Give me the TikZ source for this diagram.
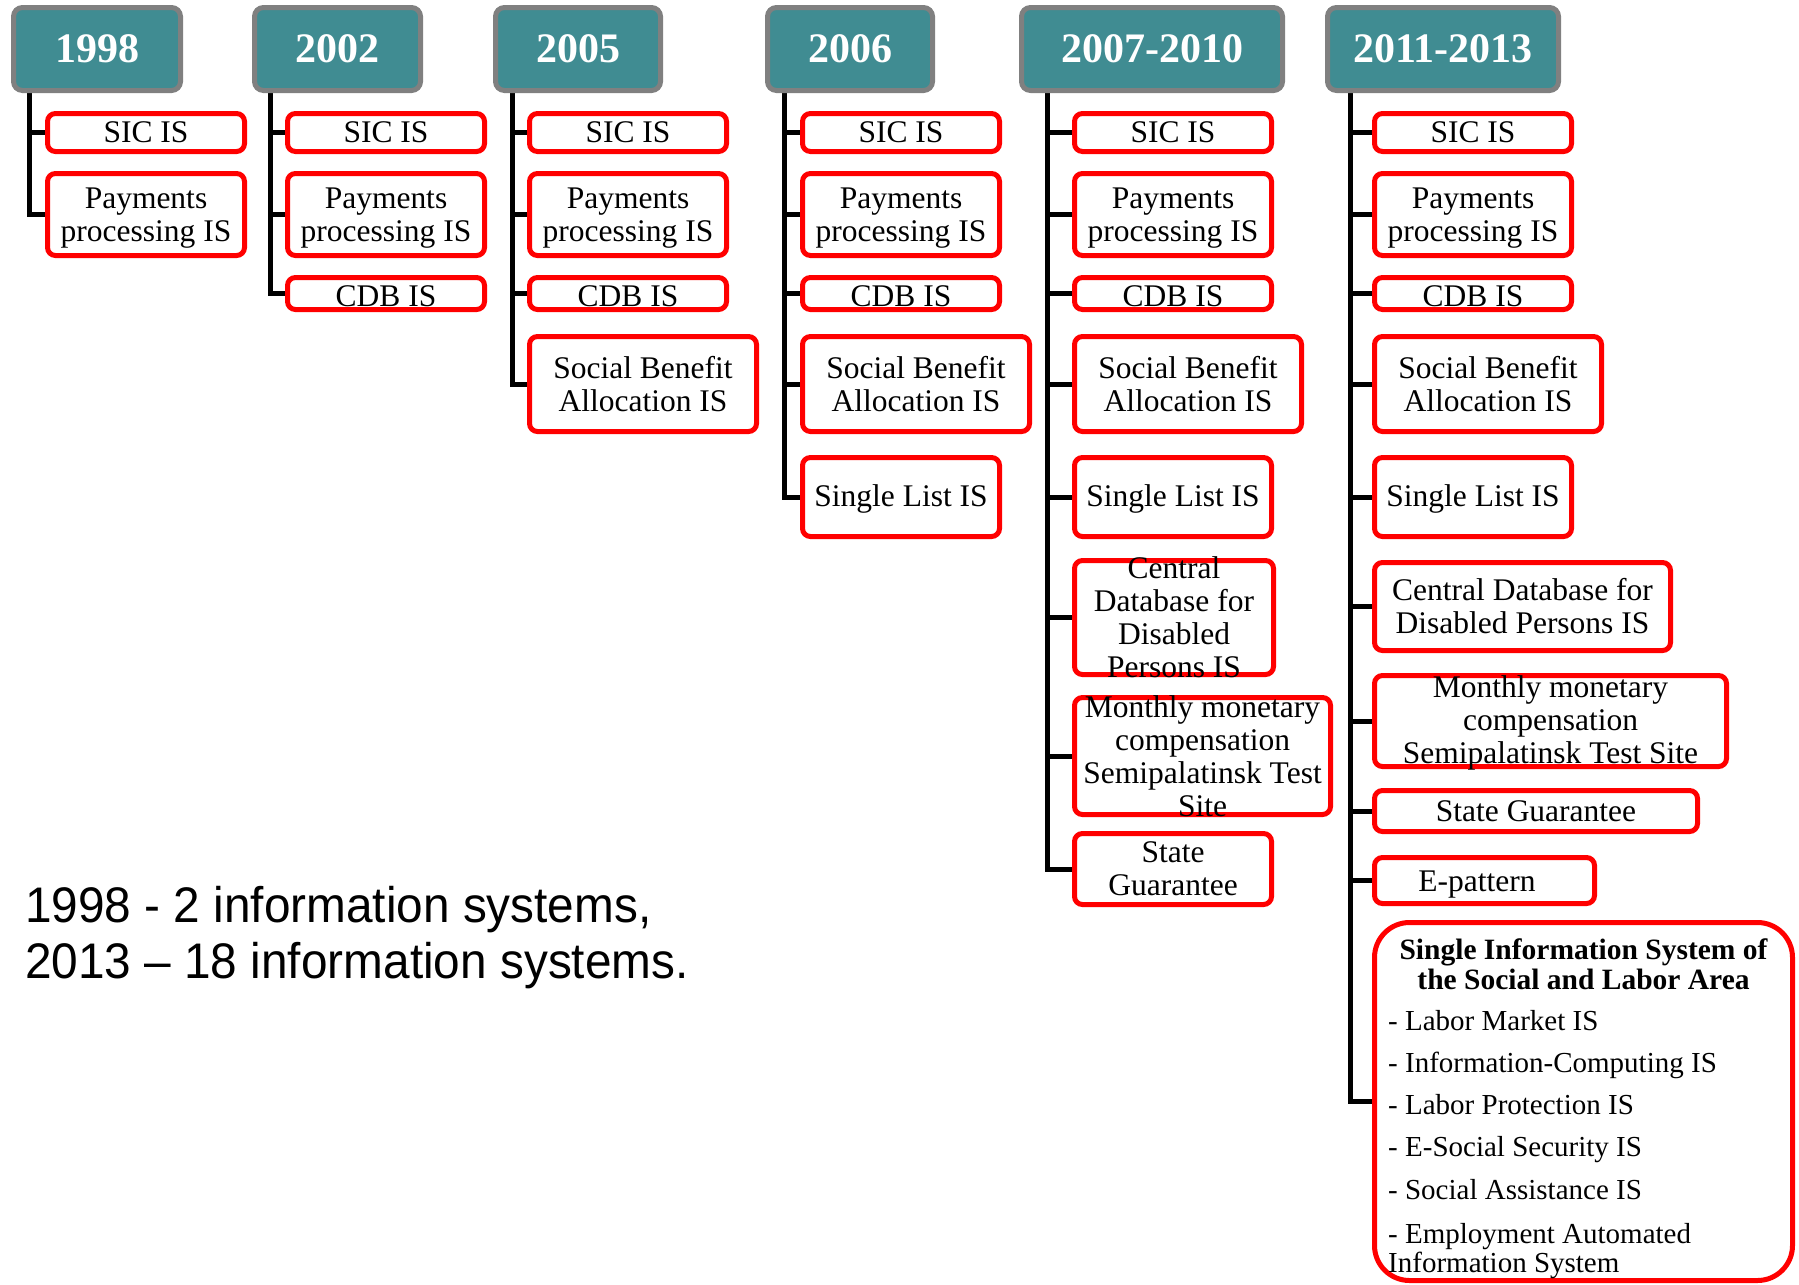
\documentclass[tikz,border=0pt]{standalone}
\usepackage{fontspec}
\setmainfont{Liberation Serif}
\newfontfamily\notesans{Liberation Sans}
\usetikzlibrary{backgrounds}

\definecolor{headteal}{RGB}{64,140,146}
\definecolor{headgray}{RGB}{128,128,128}
\definecolor{boxred}{RGB}{255,0,0}

% invisible strut that raises the top of a line (pushes the text down in its box)
\newcommand{\lift}[1]{\rule{0pt}{#1pt}}

\tikzset{
  yearbox/.style={draw=headgray, fill=headteal, line width=5pt, rounded corners=9pt,
    inner sep=0pt, outer sep=0pt, minimum height=83pt, text=white,
    font=\bfseries\fontsize{42}{44}\selectfont},
  isbox/.style={draw=boxred, fill=white, line width=5pt, rounded corners=8pt,
    inner sep=0pt, outer sep=0pt, align=center, font=\fontsize{31.5}{33}\selectfont},
  istext/.style={inner sep=0pt, align=center, font=\fontsize{31.5}{33}\selectfont},
  narrow/.style={minimum width=197pt},
  sbawide/.style={minimum width=227pt},
  rowsic/.style={minimum height=38pt},
  rowpay/.style={minimum height=82pt},
  rowcdb/.style={minimum height=32pt},
  rowsba/.style={minimum height=95pt},
  rowsl/.style={minimum height=79pt},
  branch/.style={draw=black, line width=5pt},
  itemtext/.style={anchor=base west, inner sep=0pt, font=\fontsize{29}{30}\selectfont},
  notetext/.style={anchor=base west, inner sep=0pt, xscale=0.955, transform shape,
    font=\notesans\fontsize{50}{56}\selectfont},
}

\begin{document}
\begin{tikzpicture}[x=1pt,y=-1pt]
\useasboundingbox (0,0) rectangle (1799,1285);

% year headers
\node[yearbox, minimum width=167pt] (y1) at (97,49) {1998};
\node[yearbox, minimum width=166pt] (y2) at (337.5,49) {2002};
\node[yearbox, minimum width=165pt] (y3) at (578,49) {2005};
\node[yearbox, minimum width=165pt] (y4) at (850,49) {2006};
\node[yearbox, minimum width=261pt] (y5) at (1152,49) {2007-2010};
\node[yearbox, minimum width=231pt] (y6) at (1443,49) {2011-2013};

% 1998
\node[isbox, narrow, rowsic] (a1) at (146,132.5) {SIC IS};
\node[isbox, narrow, rowpay] (a2) at (146,214.5) {\lift{28}Payments\\processing IS};

% 2002
\node[isbox, narrow, rowsic] (b1) at (386,132.5) {SIC IS};
\node[isbox, narrow, rowpay] (b2) at (386,214.5) {\lift{28}Payments\\processing IS};
\node[isbox, narrow, rowcdb] (b3) at (386,293.5) {\lift{25.5}CDB IS};

% 2005
\node[isbox, narrow, rowsic] (c1) at (628,132.5) {SIC IS};
\node[isbox, narrow, rowpay] (c2) at (628,214.5) {\lift{28}Payments\\processing IS};
\node[isbox, narrow, rowcdb] (c3) at (628,293.5) {\lift{25.5}CDB IS};
\node[isbox, sbawide, rowsba] (c4) at (643,384) {Social Benefit\\Allocation IS};

% 2006
\node[isbox, narrow, rowsic] (d1) at (901,132.5) {SIC IS};
\node[isbox, narrow, rowpay] (d2) at (901,214.5) {\lift{28}Payments\\processing IS};
\node[isbox, narrow, rowcdb] (d3) at (901,293.5) {\lift{25.5}CDB IS};
\node[isbox, sbawide, rowsba] (d4) at (916,384) {Social Benefit\\Allocation IS};
\node[isbox, narrow, rowsl] (d5) at (901,497) {\lift{26}Single List IS};

% 2007-2010
\node[isbox, narrow, rowsic] (e1) at (1173,132.5) {SIC IS};
\node[isbox, narrow, rowpay] (e2) at (1173,214.5) {\lift{28}Payments\\processing IS};
\node[isbox, narrow, rowcdb] (e3) at (1173,293.5) {\lift{25.5}CDB IS};
\node[isbox, sbawide, rowsba] (e4) at (1188,384) {Social Benefit\\Allocation IS};
\node[isbox, narrow, rowsl] (e5) at (1173,497) {\lift{26}Single List IS};
\node[isbox, minimum width=199pt, minimum height=114pt] (e6) at (1174,617.5) {};
\node[istext] (e6t) at (e6.center) {Central\\Database for\\Disabled\\Persons IS};
\node[isbox, minimum width=256pt, minimum height=117pt] (e7) at (1202.5,756) {};
\node[istext] (e7t) at (e7.center) {Monthly monetary\\compensation\\Semipalatinsk Test\\Site};
\node[isbox, narrow, minimum height=71pt] (e8) at (1173,869) {State\\Guarantee};

% 2011-2013
\node[isbox, narrow, rowsic] (f1) at (1473,132.5) {SIC IS};
\node[isbox, narrow, rowpay] (f2) at (1473,214.5) {\lift{28}Payments\\processing IS};
\node[isbox, narrow, rowcdb] (f3) at (1473,293.5) {\lift{25.5}CDB IS};
\node[isbox, sbawide, rowsba] (f4) at (1488,384) {Social Benefit\\Allocation IS};
\node[isbox, narrow, rowsl] (f5) at (1473,497) {\lift{26}Single List IS};
\node[isbox, minimum width=296pt, minimum height=88pt] (f6) at (1522.5,606.5) {Central Database for\\Disabled Persons IS};
\node[isbox, minimum width=352pt, minimum height=91pt] (f7) at (1550.5,721) {};
\node[istext] (f7t) at (f7.center) {\lift{26}Monthly monetary\\compensation\\Semipalatinsk Test Site};
\node[isbox, minimum width=323pt, minimum height=41pt] (f8) at (1536,811) {State Guarantee};
\node[isbox, minimum width=220pt, minimum height=46pt] (f9) at (1484.5,880.5) {};
\node[istext] (f9t) at (1477,880.5) {\lift{28.5}E-pattern};
\node[isbox, rounded corners=35pt, minimum width=418pt, minimum height=358pt] (f10) at (1583.5,1101.5) {};
\node[inner sep=0pt, align=center, font=\bfseries\fontsize{29.5}{30}\selectfont] (f10t) at (1583.5,964)
  {Single Information System of\\the Social and Labor Area};
\node[itemtext] (f10a) at (1388,1030.5) {- Labor Market IS};
\node[itemtext] (f10b) at (1388,1072.5) {- Information-Computing IS};
\node[itemtext] (f10c) at (1388,1114.5) {- Labor Protection IS};
\node[itemtext] (f10d) at (1388,1156.5) {- E-Social Security IS};
\node[itemtext] (f10e) at (1388,1199) {- Social Assistance IS};
\node[itemtext] (f10f) at (1388,1243) {- Employment Automated};
\node[itemtext] (f10g) at (1388,1272) {Information System};

% summary note
\node[notetext] (n1) at (25,922) {1998 - 2 information systems,};
\node[notetext] (n2) at (25,978) {2013 – 18 information systems.};

% tree connectors
\begin{scope}[on background layer]
  \coordinate (v1) at (29.5,90);
  \coordinate (v2) at (270,90);
  \coordinate (v3) at (512,90);
  \coordinate (v4) at (784,90);
  \coordinate (v5) at (1047,90);
  \coordinate (v6) at (1350,90);
  \foreach \b in {a1,a2} \draw[branch] (v1) |- (\b.west);
  \foreach \b in {b1,b2,b3} \draw[branch] (v2) |- (\b.west);
  \foreach \b in {c1,c2,c3,c4} \draw[branch] (v3) |- (\b.west);
  \foreach \b in {d1,d2,d3,d4,d5} \draw[branch] (v4) |- (\b.west);
  \foreach \b in {e1,e2,e3,e4,e5,e6,e7,e8} \draw[branch] (v5) |- (\b.west);
  \foreach \b in {f1,f2,f3,f4,f5,f6,f7,f8,f9,f10} \draw[branch] (v6) |- (\b.west);
\end{scope}
\end{tikzpicture}
\end{document}
